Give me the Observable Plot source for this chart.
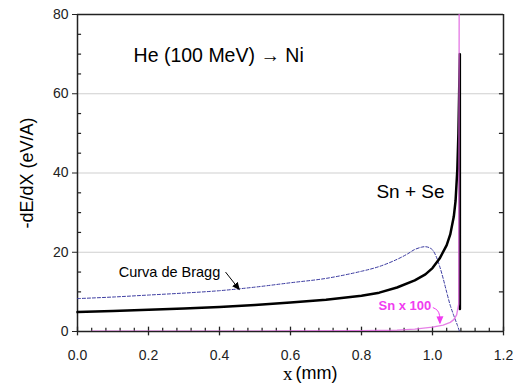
<!DOCTYPE html>
<html>
<head>
<meta charset="utf-8">
<script src="https://cdn.jsdelivr.net/npm/d3@7"></script>
<script src="https://cdn.jsdelivr.net/npm/@observablehq/plot@0.6"></script>
<style>
  html, body { margin: 0; padding: 0; background: #fff; }
  svg { display: block; }
</style>
</head>
<body>
<div id="chart"></div>
<script>
// Sn + Se (total stopping)
const snseX = [0, 0.1, 0.2, 0.3, 0.4, 0.5, 0.6, 0.7, 0.8, 0.85, 0.9, 0.95, 0.98, 1.0, 1.02, 1.04, 1.05, 1.06, 1.065, 1.07, 1.073, 1.075, 1.077, 1.0772];
const snseY = [4.9, 5.2, 5.5, 5.8, 6.2, 6.7, 7.3, 8.0, 9.0, 9.8, 11.1, 12.9, 14.4, 16.0, 18.4, 21.8, 24.5, 29.0, 33, 41, 50, 60, 70, 5.7];
// Curva de Bragg
const braggX = [0, 0.1, 0.2, 0.3, 0.4, 0.5, 0.6, 0.7, 0.8, 0.85, 0.9, 0.93, 0.95, 0.97, 0.98, 0.99, 1.0, 1.01, 1.02, 1.03, 1.04, 1.05, 1.06, 1.07, 1.076];
const braggY = [8.3, 8.7, 9.2, 9.7, 10.3, 11.2, 12.3, 13.4, 15.2, 16.4, 18.2, 19.6, 20.7, 21.3, 21.4, 21.2, 20.6, 19.0, 16.5, 13.4, 9.9, 6.6, 4.0, 1.6, 0];
// Sn x 100
const snX = [0.04, 0.3, 0.6, 0.8, 0.9, 0.95, 1.0, 1.03, 1.05, 1.06, 1.068, 1.074, 1.077];
const snY = [0.05, 0.08, 0.12, 0.2, 0.35, 0.6, 1.1, 1.6, 2.3, 3.0, 4.2, 7.0, 200];

const xTicks = [0, 0.2, 0.4, 0.6, 0.8, 1.0, 1.2];
const yTicks = [0, 20, 40, 60, 80];
const xMinor = [0.04, 0.08, 0.12, 0.16, 0.24, 0.28, 0.32, 0.36, 0.44, 0.48, 0.52, 0.56, 0.64, 0.68, 0.72, 0.76, 0.84, 0.88, 0.92, 0.96, 1.04, 1.08, 1.12, 1.16];
const yMinor = [5, 10, 15, 25, 30, 35, 45, 50, 55, 65, 70, 75];
const yRightTicks = [10, 20, 30, 40, 50, 60, 70];
const gridY = [20, 40, 60];

const snse = snseX.map((x, i) => ({x, y: snseY[i]}));
const bragg = braggX.map((x, i) => ({x, y: braggY[i]}));
const sn = snX.map((x, i) => ({x, y: snY[i]}));

const font = "'Liberation Sans', Arial, sans-serif";
const magenta = "#f03cf0";

function filledArrow(color) {
  const m = d3.create("svg:marker")
    .attr("viewBox", "-6 -4 8 8")
    .attr("markerWidth", 8)
    .attr("markerHeight", 8)
    .attr("markerUnits", "userSpaceOnUse")
    .attr("orient", "auto")
    .attr("fill", color)
    .attr("stroke", "none");
  m.append("path").attr("d", "M-6,-3.5L2,0L-6,3.5Z");
  return m.node();
}

const chart = Plot.plot({
  width: 517,
  height: 383,
  marginLeft: 77,
  marginRight: 14,
  marginTop: 14,
  marginBottom: 52,
  style: {fontFamily: font, background: "#fff", color: "#222"},
  x: {domain: [0, 1.2]},
  y: {domain: [0, 80]},
  marks: [
    Plot.ruleY(gridY, {stroke: "#cfcfcf", strokeWidth: 1}),
    Plot.axisY(yTicks, {tickSize: 5, tickPadding: 4, fontSize: 14, label: null, tickFormat: d => String(d), stroke: "#222"}),
    Plot.axisX(xTicks, {tickSize: 0, tickPadding: 19, fontSize: 14, label: null, tickFormat: d => d.toFixed(1)}),
    // minor ticks
    Plot.ruleY(yMinor, {x1: 0, x2: 0.0115, stroke: "#222", strokeWidth: 1.2}),
    Plot.ruleY(yRightTicks, {x1: 1.1885, x2: 1.2, stroke: "#222", strokeWidth: 1.2}),
    Plot.ruleX(xMinor, {y1: 0, y2: 0.8, stroke: "#222", strokeWidth: 1.2}),
    Plot.ruleX(xTicks, {y1: -1.1, y2: 1.1, stroke: "#222", strokeWidth: 1.3}),
    // frame
    Plot.ruleX([0, 1.2], {stroke: "#222", strokeWidth: 1.5}),
    Plot.ruleY([0, 80], {stroke: "#222", strokeWidth: 1.5}),
    // curves
    Plot.line(bragg, {x: "x", y: "y", stroke: "#3a3aa0", strokeWidth: 1, strokeDasharray: "3,2", curve: "catmull-rom"}),
    Plot.line(snse, {x: "x", y: "y", stroke: "#000", strokeWidth: 2.5, curve: "linear"}),
    Plot.line(sn, {x: "x", y: "y", stroke: "#e060e0", strokeWidth: 1.4, strokeOpacity: 0.8, clip: true, curve: "linear"}),
    // annotations
    Plot.text(["He (100 MeV) \u2192 Ni"], {x: 0.158, y: 69.7, text: d => d, textAnchor: "start", fontSize: 19.5, fill: "#000"}),
    Plot.text(["Sn + Se"], {x: 0.842, y: 35.2, text: d => d, textAnchor: "start", fontSize: 19, fill: "#000"}),
    Plot.text(["Curva de Bragg"], {x: 0.116, y: 14.8, text: d => d, textAnchor: "start", fontSize: 14.5, fill: "#000"}),
    Plot.text(["Sn x 100"], {x: 0.848, y: 6.6, text: d => d, textAnchor: "start", fontSize: 13, fontWeight: "bold", fill: magenta}),
    Plot.link([{x1: 0.417, y1: 15.0, x2: 0.454, y2: 10.8}], {x1: "x1", y1: "y1", x2: "x2", y2: "y2", stroke: "#000", strokeWidth: 1, markerEnd: filledArrow}),
    Plot.line([{x: 1.002, y: 6.0}, {x: 1.014, y: 5.3}, {x: 1.02, y: 4.0}, {x: 1.021, y: 2.3}], {x: "x", y: "y", stroke: magenta, strokeWidth: 1, curve: "natural", markerEnd: filledArrow}),
    // axis labels
    Plot.text(["-dE/dX (eV/A)"], {frameAnchor: "left", textAnchor: "middle", text: d => d, rotate: -90, dx: -50, fontSize: 18, fill: "#000"}),
    Plot.text(["x"], {x: 0.6056, y: 0, dy: 42, text: d => d, textAnchor: "end", fontSize: 19, fontFamily: "'Liberation Serif', 'Times New Roman', serif", fill: "#000"}),
    Plot.text(["(mm)"], {x: 0.614, y: 0, dy: 42, text: d => d, textAnchor: "start", fontSize: 18, fill: "#000"})
  ]
});
document.getElementById("chart").appendChild(chart);
</script>
</body>
</html>
